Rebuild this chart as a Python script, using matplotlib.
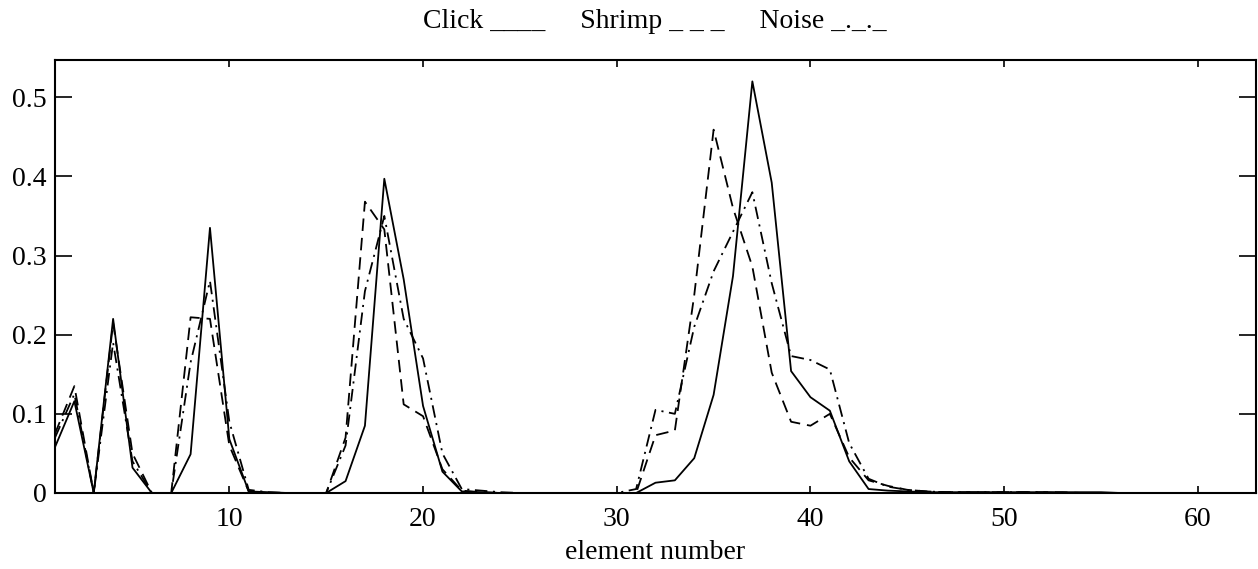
import matplotlib
matplotlib.use("Agg")
import matplotlib.pyplot as plt
import numpy as np

plt.rcParams['font.family'] = ['Liberation Serif', 'DejaVu Serif']
plt.rcParams['lines.scale_dashes'] = False

element = list(range(1, 64))

click = [0.058, 0.116, 0.0, 0.22, 0.032, 0.0, 0.0, 0.049, 0.335, 0.068,
         0.002, 0.001, 0.0, 0.0, 0.0, 0.015, 0.085, 0.397, 0.27, 0.11,
         0.027, 0.002, 0.001, 0.0, 0.0, 0.0, 0.0, 0.0, 0.0, 0.0,
         0.0, 0.013, 0.016, 0.044, 0.124, 0.274, 0.52, 0.392, 0.154, 0.121,
         0.104, 0.04, 0.005, 0.003, 0.002, 0.001, 0.001, 0.001, 0.001, 0.001,
         0.001, 0.001, 0.001, 0.001, 0.001, 0.0, 0.0, 0.0, 0.0, 0.0,
         0.0, 0.0, 0.0]

shrimp = [0.075, 0.135, 0.0, 0.215, 0.05, 0.0, 0.0, 0.222, 0.22, 0.06,
          0.002, 0.0, 0.0, 0.0, 0.0, 0.07, 0.368, 0.333, 0.112, 0.097,
          0.03, 0.003, 0.001, 0.0, 0.0, 0.0, 0.0, 0.0, 0.0, 0.0,
          0.0, 0.073, 0.079, 0.25, 0.459, 0.36, 0.286, 0.152, 0.09, 0.085,
          0.1, 0.045, 0.016, 0.009, 0.004, 0.002, 0.001, 0.001, 0.001, 0.001,
          0.001, 0.001, 0.001, 0.0, 0.0, 0.0, 0.0, 0.0, 0.0, 0.0,
          0.0, 0.0, 0.0]

noise = [0.07, 0.125, 0.0, 0.19, 0.04, 0.0, 0.0, 0.165, 0.268, 0.09,
         0.004, 0.001, 0.0, 0.0, 0.0, 0.06, 0.255, 0.35, 0.22, 0.17,
         0.05, 0.005, 0.003, 0.001, 0.0, 0.0, 0.0, 0.0, 0.0, 0.0,
         0.005, 0.105, 0.1, 0.21, 0.28, 0.33, 0.38, 0.265, 0.173, 0.168,
         0.156, 0.063, 0.018, 0.008, 0.004, 0.002, 0.001, 0.001, 0.001, 0.001,
         0.001, 0.001, 0.0, 0.0, 0.0, 0.0, 0.0, 0.0, 0.0, 0.0,
         0.0, 0.0, 0.0]

xticks = [10, 20, 30, 40, 50, 60]
yticks = [0, 0.1, 0.2, 0.3, 0.4, 0.5]
ytick_labels = ["0", "0.1", "0.2", "0.3", "0.4", "0.5"]
title_text = "Click ____     Shrimp _ _ _     Noise _._._"
xlabel_text = "element number"

fig = plt.figure(figsize=(12.58, 5.69), dpi=100)
ax = fig.add_axes([55/1258, 76/569, 1201/1258, 433/569])

ax.plot(element, click, color='black', lw=1.3, linestyle='-')
ax.plot(element, shrimp, color='black', lw=1.3, dashes=(9, 5))
ax.plot(element, noise, color='black', lw=1.3, dashes=(9, 4, 1.5, 4))

ax.set_xlim(1, 63)
ax.set_ylim(0, 0.547)
ax.set_xticks(xticks)
ax.set_xticklabels([str(t) for t in xticks], fontsize=20)
ax.set_yticks(yticks)
ax.set_yticklabels(ytick_labels, fontsize=20)
ax.tick_params(axis='x', direction='in', top=True, bottom=True, length=5, width=1.2, pad=10)
ax.tick_params(axis='y', direction='in', left=True, right=True, length=12, width=1.2, pad=6)
for s in ax.spines.values():
    s.set_linewidth(1.5)

ax.set_xlabel(xlabel_text, fontsize=20, labelpad=6)
fig.text(655/1258, 1 - 22/569, title_text, ha='center', va='center', fontsize=20)

fig.savefig("out.png", dpi=100)
